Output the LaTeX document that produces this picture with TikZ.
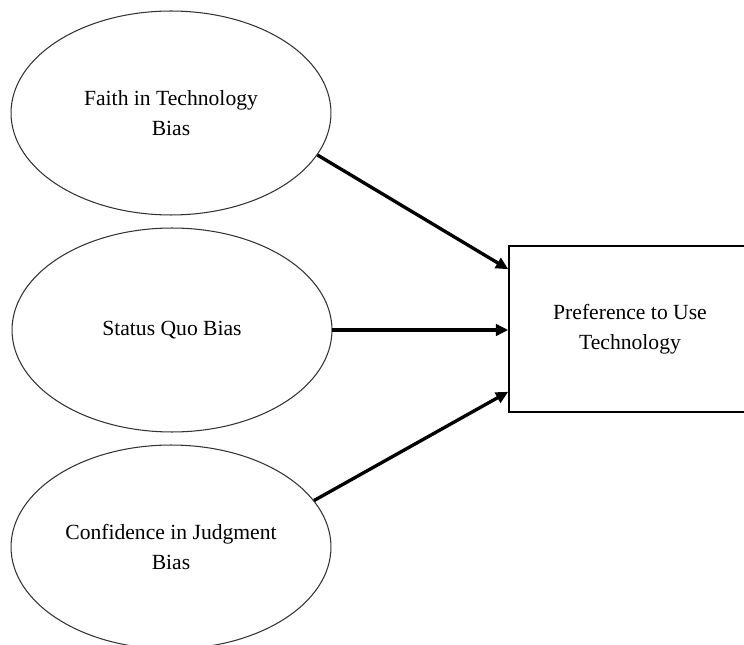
\documentclass[tikz,border=0pt]{standalone}
\usepackage{fontspec}
\setmainfont{Liberation Serif}
\usepackage{tikz}
\usetikzlibrary{shapes.geometric}
\usetikzlibrary{arrows.meta}
\tikzset{
	bias/.style={ellipse,draw=black!80,line width=0.6pt,inner sep=0pt,
		minimum width=6.4cm,minimum height=4.08cm,align=center},
	outcome/.style={rectangle,draw=black,line width=0.9pt,inner sep=0pt,
		minimum width=4.84cm,minimum height=3.32cm,align=center},
	link/.style={line width=1.9pt,-{Triangle[length=7pt,width=6.5pt]}}
}

\begin{document}
\begin{tikzpicture}[x=0.02cm,y=-0.02cm,font=\fontsize{12.3}{17}\selectfont]
	\useasboundingbox (0,0) rectangle (744,645);
	\begin{scope}
		\node[bias] (faith) at (171,113) {Faith in Technology\\Bias};
		\node[bias] (quo) at (172,330) {Status Quo Bias};
		\node[bias] (conf) at (171,547) {Confidence in Judgment\\Bias};
		\node[outcome] (pref) at (630,329) {Preference to Use\\Technology};
		
		\draw[link] (faith.-16) -- ([yshift=-0.48cm]pref.north west);
		\draw[link] (quo.east) -- (quo.east -| pref.west);
		\draw[link] (conf.18) -- ([yshift=0.42cm]pref.south west);
	\end{scope}
\end{tikzpicture}
\end{document}
